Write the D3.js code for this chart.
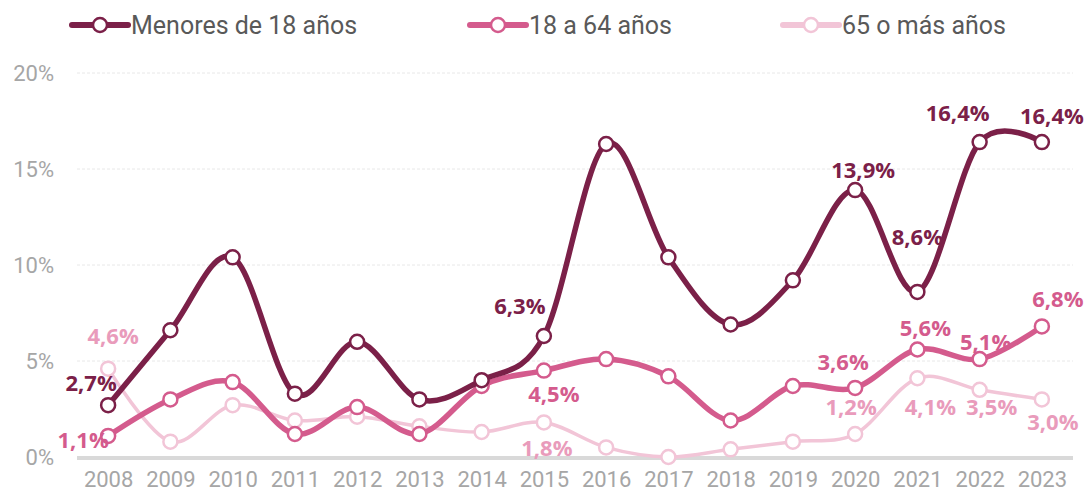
<!DOCTYPE html>
<html>
<head>
<meta charset="utf-8">
<script src="https://cdn.jsdelivr.net/npm/d3@7"></script>
<style>
  body { margin: 0; background: #fff; }
  .tick text { font-family: Roboto, sans-serif; }
</style>
</head>
<body>
<div id="chart"></div>
<script>
// Data
var years = ["2008","2009","2010","2011","2012","2013","2014","2015","2016","2017","2018","2019","2020","2021","2022","2023"];
var menores = [2.7, 6.6, 10.4, 3.3, 6.0, 3.0, 4.0, 6.3, 16.3, 10.4, 6.9, 9.2, 13.9, 8.6, 16.4, 16.4];
var adultos = [1.1, 3.0, 3.9, 1.2, 2.6, 1.2, 3.7, 4.5, 5.1, 4.2, 1.9, 3.7, 3.6, 5.6, 5.1, 6.8];
var mayores = [4.6, 0.8, 2.7, 1.9, 2.1, 1.6, 1.3, 1.8, 0.5, 0.0, 0.4, 0.8, 1.2, 4.1, 3.5, 3.0];
var seriesNames = ["Menores de 18 años", "18 a 64 años", "65 o más años"];
var yTicks = [0, 5, 10, 15, 20];

// which points carry a value label
var labelled = [0, 7, 12, 13, 14, 15];

// label offsets (px) from point, per series
var labelOffsets = [
  {0: [-17, -22], 7: [-24, -30], 12: [8, -20], 13: [0, -55], 14: [-22, -29], 15: [10, -26]},
  {0: [-25, 4], 7: [10, 24], 12: [-12, -26], 13: [8, -21], 14: [6, -17], 15: [16, -27]},
  {0: [5, -32], 7: [3, 26], 12: [-4, -27], 13: [13, 29], 14: [12, 17], 15: [11, 23]}
];

var colors = ["#7b2048", "#d45b8d", "#f2c5d7"];
var labelColors = ["#7b2048", "#d45b8d", "#e99bbb"];
var widths = [5.5, 5.5, 3.5];

var svgWidth = 1088;
var svgHeight = 497;

var svg = d3.select("#chart")
    .append("svg")
    .attr("width", svgWidth)
    .attr("height", svgHeight);

var xScale = d3.scalePoint()
    .domain(years)
    .range([77, 1073])
    .padding(0.5);

var yScale = d3.scaleLinear()
    .domain([0, 20])
    .range([457, 73]);

// gridlines
svg.append("g")
    .selectAll("line")
    .data(yTicks.filter(d => d > 0))
    .enter()
    .append("line")
    .attr("x1", 77)
    .attr("x2", 1073)
    .attr("y1", d => yScale(d))
    .attr("y2", d => yScale(d))
    .attr("stroke", "#e8e8e8")
    .attr("stroke-width", 1)
    .attr("stroke-dasharray", "3,2");

// y axis labels
var leftAxis = d3.axisLeft(yScale)
    .tickValues(yTicks)
    .tickFormat(d => d + "%")
    .tickSize(0)
    .tickPadding(0);

var yAxis = svg.append("g")
    .attr("transform", "translate(54,0)")
    .call(leftAxis);
yAxis.select(".domain").remove();
yAxis.selectAll("text")
    .attr("fill", "#a6a6a6")
    .attr("font-size", 22)
    .attr("dy", "0.35em");

// baseline
svg.append("line")
    .attr("x1", 77)
    .attr("x2", 1073)
    .attr("y1", yScale(0) + 1)
    .attr("y2", yScale(0) + 1)
    .attr("stroke", "#d9d9d9")
    .attr("stroke-width", 4);

// x axis labels
var bottomAxis = d3.axisBottom(xScale)
    .tickSize(0)
    .tickPadding(0);

var xAxis = svg.append("g")
    .attr("transform", "translate(0,479)")
    .call(bottomAxis);
xAxis.select(".domain").remove();
xAxis.selectAll("text")
    .attr("fill", "#a6a6a6")
    .attr("font-size", 22)
    .attr("dy", "0.35em");

var allSeries = [menores, adultos, mayores];

var line = d3.line()
    .x((d, i) => xScale(years[i]))
    .y(d => yScale(d))
    .curve(d3.curveCardinal.tension(0));

// draw back to front: lightest first
[2, 1, 0].forEach(function (s) {
    var values = allSeries[s];
    var g = svg.append("g");

    g.append("path")
        .datum(values)
        .attr("d", line)
        .attr("fill", "none")
        .attr("stroke", colors[s])
        .attr("stroke-width", widths[s])
        .attr("stroke-linecap", "round");

    g.selectAll("circle")
        .data(values)
        .enter()
        .append("circle")
        .attr("cx", (d, i) => xScale(years[i]))
        .attr("cy", d => yScale(d))
        .attr("r", 7)
        .attr("fill", "#fff")
        .attr("stroke", colors[s])
        .attr("stroke-width", 2.5);
});

// value labels
[2, 1, 0].forEach(function (s) {
    var values = allSeries[s];
    svg.append("g")
        .selectAll("text")
        .data(labelled)
        .enter()
        .append("text")
        .attr("x", i => xScale(years[i]) + labelOffsets[s][i][0])
        .attr("y", i => yScale(values[i]) + labelOffsets[s][i][1])
        .attr("dy", "0.35em")
        .attr("text-anchor", "middle")
        .attr("font-family", "'Open Sans', sans-serif")
        .attr("font-weight", "bold")
        .attr("font-size", 22)
        .attr("fill", labelColors[s])
        .text(i => d3.format(".1f")(values[i]).replace(".", ",") + "%");
});

// legend
var legendX = [72, 470, 783];
var legend = svg.append("g")
    .selectAll("g")
    .data(seriesNames)
    .enter()
    .append("g")
    .attr("transform", (d, i) => "translate(" + legendX[i] + ",25)");

legend.append("line")
    .attr("x1", 0)
    .attr("x2", 56)
    .attr("stroke", (d, i) => colors[i])
    .attr("stroke-width", 6)
    .attr("stroke-linecap", "round");

legend.append("circle")
    .attr("cx", 28)
    .attr("r", 7)
    .attr("fill", "#fff")
    .attr("stroke", (d, i) => colors[i])
    .attr("stroke-width", 2.5);

legend.append("text")
    .attr("x", 59)
    .attr("dy", "0.35em")
    .attr("font-family", "Roboto, sans-serif")
    .attr("font-size", 25)
    .attr("fill", "#595959")
    .text(d => d);
</script>
</body>
</html>
